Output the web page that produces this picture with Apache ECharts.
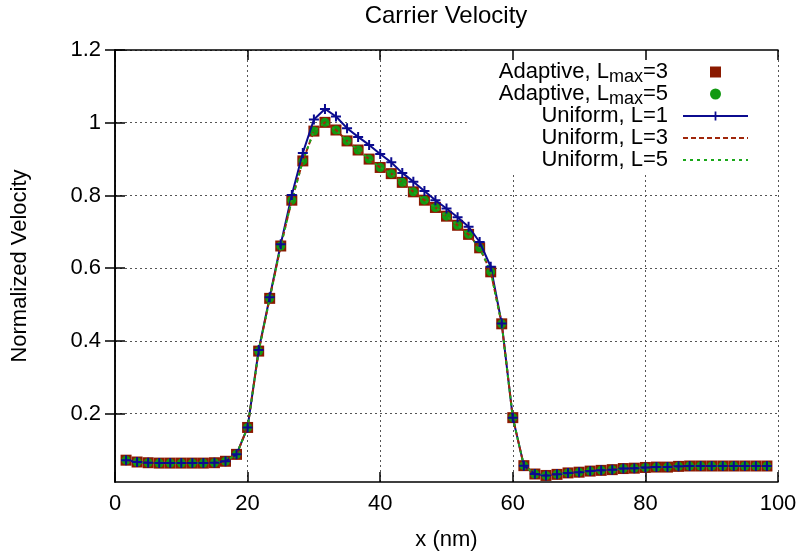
<!DOCTYPE html>
<html>
<head>
<meta charset="utf-8">
<title>Carrier Velocity</title>
<script src="https://cdn.jsdelivr.net/npm/echarts@6.0.0/dist/echarts.min.js"></script>
<style>
  html, body { margin: 0; padding: 0; background: #fff; }
  #chart { width: 803px; height: 557px; }
</style>
</head>
<body>
<div id="chart"></div>
<script>
// x positions (nm) of the sampled points
const xNm = [
  1.67, 3.33, 5.00, 6.67, 8.33, 10.00, 11.67, 13.33, 15.00, 16.67,
  18.33, 20.00, 21.67, 23.33, 25.00, 26.67, 28.33, 30.00, 31.67, 33.33,
  35.00, 36.67, 38.33, 40.00, 41.67, 43.33, 45.00, 46.67, 48.33, 50.00,
  51.67, 53.33, 55.00, 56.67, 58.33, 60.00, 61.67, 63.33, 65.00, 66.67,
  68.33, 70.00, 71.67, 73.33, 75.00, 76.67, 78.33, 80.00, 81.67, 83.33,
  85.00, 86.67, 88.33, 90.00, 91.67, 93.33, 95.00, 96.67, 98.33
]

const adaptiveL3 = [
  0.072, 0.067, 0.065, 0.064, 0.064, 0.064, 0.064, 0.064, 0.065, 0.069,
  0.088, 0.162, 0.372, 0.517, 0.661, 0.787, 0.895, 0.977, 1.001, 0.980,
  0.950, 0.925, 0.900, 0.877, 0.860, 0.836, 0.810, 0.787, 0.767, 0.743,
  0.718, 0.693, 0.656, 0.590, 0.447, 0.189, 0.057, 0.034, 0.030, 0.033,
  0.037, 0.039, 0.042, 0.044, 0.046, 0.049, 0.050, 0.052, 0.053, 0.053,
  0.055, 0.056, 0.056, 0.056, 0.056, 0.056, 0.056, 0.056, 0.056
]

const adaptiveL5 = [
  0.072, 0.067, 0.065, 0.064, 0.064, 0.064, 0.064, 0.064, 0.065, 0.069,
  0.088, 0.162, 0.372, 0.517, 0.661, 0.787, 0.895, 0.977, 1.001, 0.980,
  0.950, 0.925, 0.900, 0.877, 0.860, 0.836, 0.810, 0.787, 0.767, 0.743,
  0.718, 0.693, 0.656, 0.590, 0.447, 0.189, 0.057, 0.034, 0.030, 0.033,
  0.037, 0.039, 0.042, 0.044, 0.046, 0.049, 0.050, 0.052, 0.053, 0.053,
  0.055, 0.056, 0.056, 0.056, 0.056, 0.056, 0.056, 0.056, 0.056
]

const uniformL1 = [
  0.072, 0.067, 0.065, 0.064, 0.064, 0.064, 0.064, 0.064, 0.065, 0.069,
  0.088, 0.162, 0.375, 0.520, 0.666, 0.801, 0.917, 1.009, 1.038, 1.017,
  0.985, 0.961, 0.939, 0.914, 0.891, 0.862, 0.838, 0.812, 0.787, 0.764,
  0.740, 0.714, 0.672, 0.604, 0.448, 0.189, 0.057, 0.034, 0.030, 0.033,
  0.037, 0.039, 0.042, 0.044, 0.046, 0.049, 0.050, 0.052, 0.053, 0.053,
  0.055, 0.056, 0.056, 0.056, 0.056, 0.056, 0.056, 0.056, 0.056
]

const uniformL3 = [
  0.072, 0.067, 0.065, 0.064, 0.064, 0.064, 0.064, 0.064, 0.065, 0.069,
  0.088, 0.162, 0.372, 0.517, 0.661, 0.787, 0.895, 0.977, 1.001, 0.980,
  0.950, 0.925, 0.900, 0.877, 0.860, 0.836, 0.810, 0.787, 0.767, 0.743,
  0.718, 0.693, 0.656, 0.590, 0.447, 0.189, 0.057, 0.034, 0.030, 0.033,
  0.037, 0.039, 0.042, 0.044, 0.046, 0.049, 0.050, 0.052, 0.053, 0.053,
  0.055, 0.056, 0.056, 0.056, 0.056, 0.056, 0.056, 0.056, 0.056
]

const uniformL5 = [
  0.072, 0.067, 0.065, 0.064, 0.064, 0.064, 0.064, 0.064, 0.065, 0.069,
  0.088, 0.162, 0.372, 0.517, 0.661, 0.787, 0.895, 0.977, 1.001, 0.980,
  0.950, 0.925, 0.900, 0.877, 0.860, 0.836, 0.810, 0.787, 0.767, 0.743,
  0.718, 0.693, 0.656, 0.590, 0.447, 0.189, 0.057, 0.034, 0.030, 0.033,
  0.037, 0.039, 0.042, 0.044, 0.046, 0.049, 0.050, 0.052, 0.053, 0.053,
  0.055, 0.056, 0.056, 0.056, 0.056, 0.056, 0.056, 0.056, 0.056
]

const seriesNames = ['Adaptive, Lmax=3', 'Adaptive, Lmax=5', 'Uniform, L=1', 'Uniform, L=3', 'Uniform, L=5']
const xTicks = [0, 20, 40, 60, 80, 100]
const yTicks = [0.2, 0.4, 0.6, 0.8, 1, 1.2]

const FONT = 'Liberation Sans, Arial, sans-serif'
const plusPath = 'path://M4,0H6V4H10V6H6V10H4V6H0V4H4Z'

function pairs(vals) {
  return xNm.map((x, i) => [x, vals[i]])
}

const chart = echarts.init(document.getElementById('chart'), null, { renderer: 'canvas' })

const frameLine = { show: true, lineStyle: { color: '#000', width: 1.5 } }
const innerTick = { show: true, inside: true, length: 10, lineStyle: { color: '#000', width: 1.5 } }
const gridDots = { show: true, lineStyle: { color: '#555', width: 1, type: [2, 3] } }

const option = {
  animation: false,
  backgroundColor: '#fff',
  textStyle: { fontFamily: FONT },
  title: {
    text: 'Carrier Velocity',
    left: 446,
    top: 4,
    padding: 0,
    textAlign: 'center',
    textStyle: { fontFamily: FONT, fontSize: 24, fontWeight: 'normal', color: '#000' }
  },
  grid: { left: 115, right: 25, top: 50, bottom: 75 },
  legend: {
    data: [
      { name: seriesNames[0], icon: 'path://M0,0H10V10H0Z' },
      { name: seriesNames[1], icon: 'circle' },
      { name: seriesNames[2] },
      { name: seriesNames[3], itemStyle: { opacity: 0 }, lineStyle: { width: 2, type: [5, 3] } },
      { name: seriesNames[4], itemStyle: { opacity: 0 }, lineStyle: { width: 2, type: [3, 4] } }
    ],
    orient: 'vertical',
    align: 'right',
    top: 50,
    right: 25,
    padding: [11, 29, 0, 32],
    itemWidth: 65,
    itemHeight: 11,
    itemGap: -3,
    backgroundColor: '#fff',
    selectedMode: false,
    lineStyle: { width: 2 },
    formatter: name => {
      if (name.indexOf('Lmax') >= 0) {
        const parts = name.split('Lmax')
        return '{a|' + parts[0] + 'L}{s|max}{a|' + parts[1] + '}'
      }
      // zero-width subscript token so every row gets the same height
      return '{a|' + name + '}{s|\u200b}'
    },
    textStyle: {
      color: '#000',
      fontFamily: FONT,
      fontSize: 22,
      padding: [0, 10, 0, 0],
      rich: {
        a: { fontFamily: FONT, fontSize: 22, color: '#000', verticalAlign: 'middle' },
        // subscript pushed down by its top padding
        s: { fontFamily: FONT, fontSize: 18, color: '#000', verticalAlign: 'top', padding: [10, 0, 0, 0] }
      }
    }
  },
  xAxis: [
    {
      type: 'value',
      position: 'bottom',
      min: 0,
      max: 100,
      interval: 20,
      name: 'x (nm)',
      nameLocation: 'middle',
      nameGap: 47,
      nameTextStyle: { fontFamily: FONT, fontSize: 22, color: '#000' },
      axisLine: frameLine,
      axisTick: innerTick,
      axisLabel: { fontFamily: FONT, fontSize: 22, color: '#000', margin: 11, customValues: xTicks },
      splitLine: gridDots
    },
    {
      type: 'value',
      position: 'top',
      min: 0,
      max: 100,
      interval: 20,
      z: 10,
      axisLine: frameLine,
      axisTick: innerTick,
      axisLabel: { show: false },
      splitLine: { show: false }
    }
  ],
  yAxis: [
    {
      type: 'value',
      position: 'left',
      min: 0.012,
      max: 1.2,
      name: 'Normalized Velocity',
      nameLocation: 'middle',
      nameGap: 84,
      nameTextStyle: { fontFamily: FONT, fontSize: 22, color: '#000' },
      axisLine: frameLine,
      axisTick: Object.assign({}, innerTick, { customValues: yTicks }),
      axisLabel: { fontFamily: FONT, fontSize: 22, color: '#000', margin: 14, customValues: yTicks },
      splitLine: gridDots
    },
    {
      type: 'value',
      position: 'right',
      min: 0.012,
      max: 1.2,
      z: 10,
      axisLine: frameLine,
      axisTick: Object.assign({}, innerTick, { customValues: yTicks }),
      axisLabel: { show: false },
      splitLine: { show: false }
    }
  ],
  series: [
    {
      name: seriesNames[0],
      type: 'scatter',
      data: pairs(adaptiveL3),
      symbol: 'rect',
      symbolSize: 11,
      itemStyle: { color: '#8b1a00', opacity: 1 }
    },
    {
      name: seriesNames[1],
      type: 'scatter',
      data: pairs(adaptiveL5),
      symbol: 'circle',
      symbolSize: 9,
      itemStyle: { color: '#129912', opacity: 1 }
    },
    {
      name: seriesNames[2],
      type: 'line',
      data: pairs(uniformL1),
      symbol: plusPath,
      symbolSize: 10,
      showAllSymbol: true,
      lineStyle: { color: '#0b0b8f', width: 2 },
      itemStyle: { color: '#0b0b8f' }
    },
    {
      name: seriesNames[3],
      type: 'line',
      data: pairs(uniformL3),
      symbol: 'none',
      lineStyle: { color: '#a0260a', width: 2, type: [5, 3] },
      itemStyle: { color: '#a0260a' }
    },
    {
      name: seriesNames[4],
      type: 'line',
      data: pairs(uniformL5),
      symbol: 'none',
      lineStyle: { color: '#1aa81a', width: 2, type: [3, 4] },
      itemStyle: { color: '#1aa81a' }
    }
  ]
}

chart.setOption(option)
window.addEventListener('resize', () => chart.resize())
</script>
</body>
</html>
